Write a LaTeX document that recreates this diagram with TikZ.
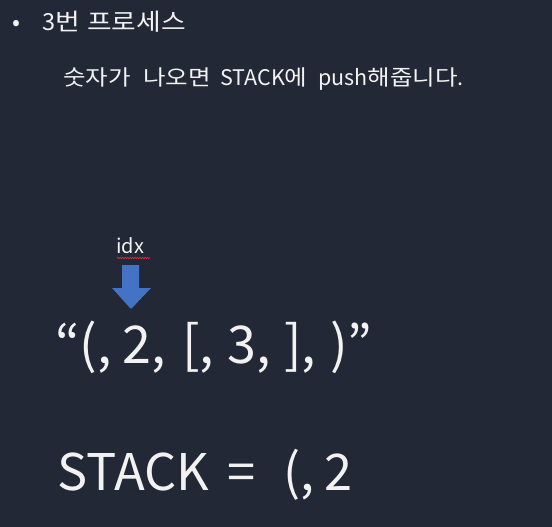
\documentclass[tikz,border=0pt]{standalone}
\usepackage{fontspec}
\setmainfont{Noto Sans CJK KR}
\newfontfamily\hang[FakeStretch=1.14]{Noto Sans CJK KR}
\usetikzlibrary{decorations.pathmorphing}
\definecolor{bgc}{HTML}{222835}
\definecolor{txtc}{HTML}{F2F2F2}
\definecolor{arrowc}{HTML}{4472C4}
\definecolor{squig}{HTML}{D03030}
\tikzset{
  txt/.style={text=txtc, inner sep=0pt, anchor=base west},
  lvlone/.style={txt, font=\fontsize{23.5}{28}\selectfont},
  lvltwo/.style={txt, font=\fontsize{21.5}{26}\selectfont},
  big/.style={txt, font=\fontsize{52}{62}\selectfont},
  bigger/.style={txt, font=\fontsize{50.5}{60}\selectfont},
}
\begin{document}
\begin{tikzpicture}[x=1pt,y=-1pt]
\fill[bgc] (0,0) rectangle (552,527);
\useasboundingbox (0,0) rectangle (552,527);
% heading
\node[lvlone] (bul) at (12,31) {•};
\node[lvlone] (t1a) at (42,31) {3{\hang 번}};
\node[lvlone] (t1b) at (87,31) {\hang 프로세스};
% sub line
\node[lvltwo] (t2a) at (63,86) {\hang 숫자가};
\node[lvltwo] (t2b) at (143,86) {\hang 나오면};
\node[lvltwo] (t2c) at (220,86) {STACK{\hang 에}};
\node[lvltwo] (t2d) at (318,86) {push{\hang 해줍니다}.};
% idx marker
\node[txt, font=\fontsize{20}{24}\selectfont] (idx) at (116,253) {idx};
\coordinate (sqa) at (117,258);
\coordinate (sqb) at (150,258);
\draw[squig, line width=0.7pt, decorate, decoration={zigzag, amplitude=0.8pt, segment length=2.5pt}] (sqa) -- (sqb);
\fill[arrowc] (122,265) -- (139,265) -- (139,288) -- (151,288) -- (131,309) -- (112,288) -- (122,288) -- cycle;
% expression
\node[big] (e1) at (55,363) {“(,};
\node[big] (e2) at (122,363) {2,};
\node[big] (e3) at (182,363) {[,};
\node[big] (e4) at (227,363) {3,};
\node[big] (e5) at (284,363) {],};
\node[big] (e6) at (330,363) {)”};
% stack
\node[bigger] (s1) at (57,490) {STACK};
\node[bigger] (s2) at (227,490) {=};
\node[bigger] (s3) at (283,490) {(,};
\node[bigger] (s4) at (324,490) {2};
\end{tikzpicture}
\end{document}
